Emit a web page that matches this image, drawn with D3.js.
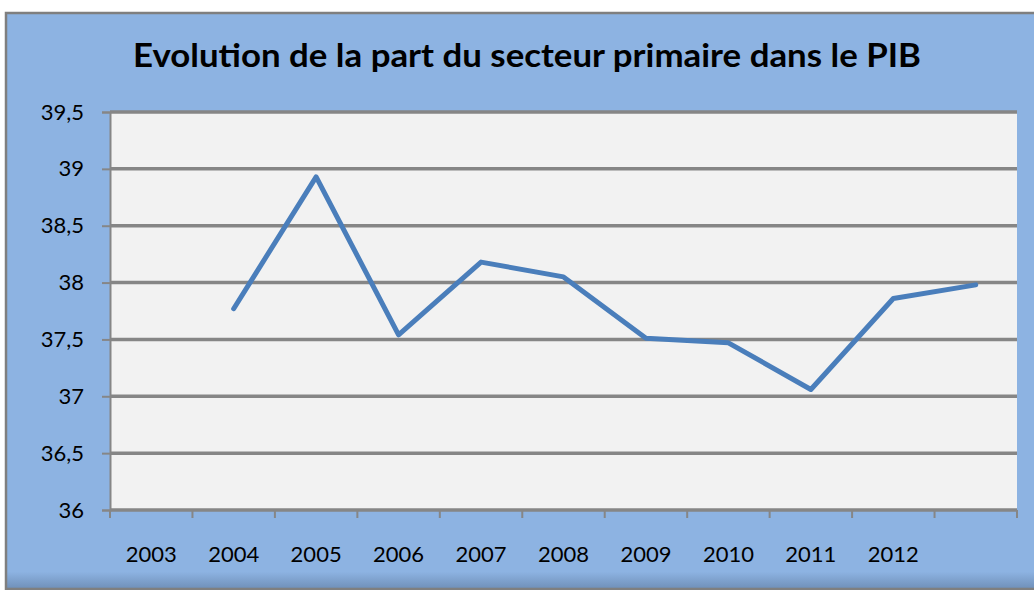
<!DOCTYPE html>
<html>
<head>
<meta charset="utf-8">
<script src="https://cdn.jsdelivr.net/npm/d3@7"></script>
<style>
body{margin:0;background:#fff;}
text{font-family:Lato,"Open Sans",sans-serif;}
</style>
</head>
<body>
<script>
var w=1034, h=590;

// data
var categories = ["2003","2004","2005","2006","2007","2008","2009","2010","2011","2012",""];
var values = [null,37.77,38.93,37.54,38.18,38.05,37.51,37.47,37.06,37.86,37.98];
var yTicks = [36,36.5,37,37.5,38,38.5,39,39.5];
var title = "Evolution de la part du secteur primaire dans le PIB";

var margin = {left:110, top:112, right:17, bottom:80};

var svg = d3.select("body")
	.append("svg")
		.attr("width",w)
		.attr("height",h);

var defs = svg.append("defs");
var grad = defs.append("linearGradient").attr("id","shade").attr("x1",0).attr("y1",0).attr("x2",0).attr("y2",1);
grad.append("stop").attr("offset","0.97").attr("stop-color","#8DB3E2");
grad.append("stop").attr("offset","1").attr("stop-color","#6F8FB8");

// chart frame
svg.append("rect")
	.attr("x",6).attr("y",13)
	.attr("width",w)
	.attr("height",576)
	.attr("fill","url(#shade)")
	.attr("stroke","#7F7F7F")
	.attr("stroke-width",2.5);

svg.append("text")
	.attr("x",527)
	.attr("y",67)
	.attr("text-anchor","middle")
	.attr("font-size",33)
	.attr("font-weight","bold")
	.attr("fill","#000")
	.attr("textLength",788)
	.attr("lengthAdjust","spacingAndGlyphs")
	.text(title);

var x = d3.scaleBand()
	.domain(categories.map(function(d,i){return i;}))
	.range([margin.left, w-margin.right]);

var y = d3.scaleLinear()
	.domain([36,39.5])
	.range([510, margin.top]);

// plot area
svg.append("rect")
	.attr("x",margin.left)
	.attr("y",y(39.5))
	.attr("width",w-margin.right-margin.left)
	.attr("height",y(36)-y(39.5))
	.attr("fill","#F2F2F2");

// gridlines + y axis
var yAxis = d3.axisLeft(y)
	.tickValues(yTicks)
	.tickSize(8)
	.tickPadding(18)
	.tickFormat(function(d){return String(d).replace(".",",");});

var gy = svg.append("g")
	.attr("transform","translate("+margin.left+",0)")
	.call(yAxis);
gy.select(".domain").attr("stroke","#868686").attr("stroke-width",2);
gy.selectAll(".tick line").attr("stroke","#868686").attr("stroke-width",2);
gy.selectAll(".tick text").attr("font-size",22).attr("fill","#000").attr("font-family","Lato,'Open Sans',sans-serif");

svg.append("g").selectAll("line")
	.data(yTicks)
	.enter()
	.append("line")
		.attr("x1",margin.left)
		.attr("x2",w-margin.right)
		.attr("y1",function(d){return y(d);})
		.attr("y2",function(d){return y(d);})
		.attr("stroke","#868686")
		.attr("stroke-width",3.5);

// x axis ticks at category boundaries
var bounds = d3.range(categories.length+1).map(function(i){return margin.left + i*x.step();});
svg.append("g").selectAll("line")
	.data(bounds)
	.enter()
	.append("line")
		.attr("x1",function(d){return d;})
		.attr("x2",function(d){return d;})
		.attr("y1",y(36))
		.attr("y2",y(36)+8)
		.attr("stroke","#868686")
		.attr("stroke-width",2);

svg.append("g").selectAll("text")
	.data(categories)
	.enter()
	.append("text")
		.attr("x",function(d,i){return x(i)+x.bandwidth()/2;})
		.attr("y",562)
		.attr("text-anchor","middle")
		.attr("font-size",22)
		.attr("fill","#000")
		.text(function(d){return d;});

// line
var line = d3.line()
	.defined(function(d){return d!=null;})
	.x(function(d,i){return x(i)+x.bandwidth()/2;})
	.y(function(d){return y(d);});

svg.append("path")
	.datum(values)
	.attr("d",line)
	.attr("fill","none")
	.attr("stroke","#4A7EBB")
	.attr("stroke-width",5)
	.attr("stroke-linejoin","round")
	.attr("stroke-linecap","round");
</script>
</body>
</html>
